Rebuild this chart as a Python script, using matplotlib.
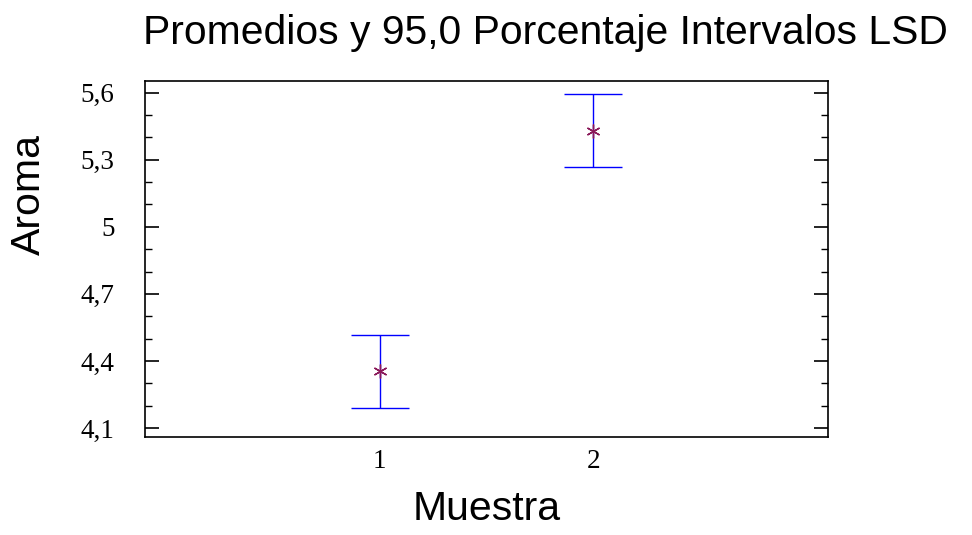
import matplotlib.pyplot as plt
from matplotlib.ticker import MultipleLocator
import matplotlib.transforms as mtransforms

# data
muestras = [1, 2]
promedios = [4.355, 5.428]
lim_inf = [4.19, 5.268]
lim_sup = [4.516, 5.594]
y_ticks = [4.1, 4.4, 4.7, 5.0, 5.3, 5.6]
y_labels = ['4,1', '4,4', '4,7', '5', '5,3', '5,6']

fig = plt.figure(figsize=(9.72, 5.35), dpi=100)
ax = fig.add_axes([145/972, 1 - 437/535, 683/972, 356/535])

err_low = [p - l for p, l in zip(promedios, lim_inf)]
err_up = [u - p for p, u in zip(promedios, lim_sup)]
ax.errorbar(muestras, promedios, yerr=[err_low, err_up], fmt='none',
            ecolor='#0000ff', elinewidth=1.0, capsize=21, capthick=1.0)
ax.plot(muestras, promedios, linestyle='none', marker=(6, 2, 0),
        markersize=10, color='#8b1a5a', markeredgewidth=1.0)

ax.set_xlim(-0.1, 3.1)
ax.set_ylim(4.06, 5.652)

ax.set_yticks(y_ticks)
ax.set_yticklabels(y_labels)
ax.yaxis.set_minor_locator(MultipleLocator(0.1))
ax.set_xticks(muestras)
ax.set_xticklabels(['1', '2'])

serif = 'Liberation Serif'
for lab in ax.get_yticklabels() + ax.get_xticklabels():
    lab.set_fontfamily(serif)
    lab.set_fontsize(19.5)

# x labels sit a bit left of the bars in the reference
offset = mtransforms.ScaledTranslation(-7/100, 0, fig.dpi_scale_trans)
for lab in ax.get_xticklabels():
    lab.set_transform(lab.get_transform() + offset)

ax.tick_params(axis='y', which='major', direction='in', length=10, width=1.2,
               left=True, right=True, pad=22)
ax.tick_params(axis='y', which='minor', direction='in', length=5, width=1.0,
               left=True, right=True)
ax.tick_params(axis='x', which='both', length=0, pad=9)

for s in ax.spines.values():
    s.set_linewidth(1.2)

sans = 'Liberation Sans'
ax.set_xlabel('Muestra', fontfamily=sans, fontsize=29.5, labelpad=11)
ax.set_ylabel('Aroma', fontfamily=sans, fontsize=29.5, va='center')
ax.yaxis.set_label_coords(-0.17, 0.68)

fig.text(545/972, 1 - 33/535, 'Promedios y 95,0 Porcentaje Intervalos LSD',
         fontfamily=sans, fontsize=29.4, ha='center', va='center')

fig.savefig('out.png', dpi=100)
